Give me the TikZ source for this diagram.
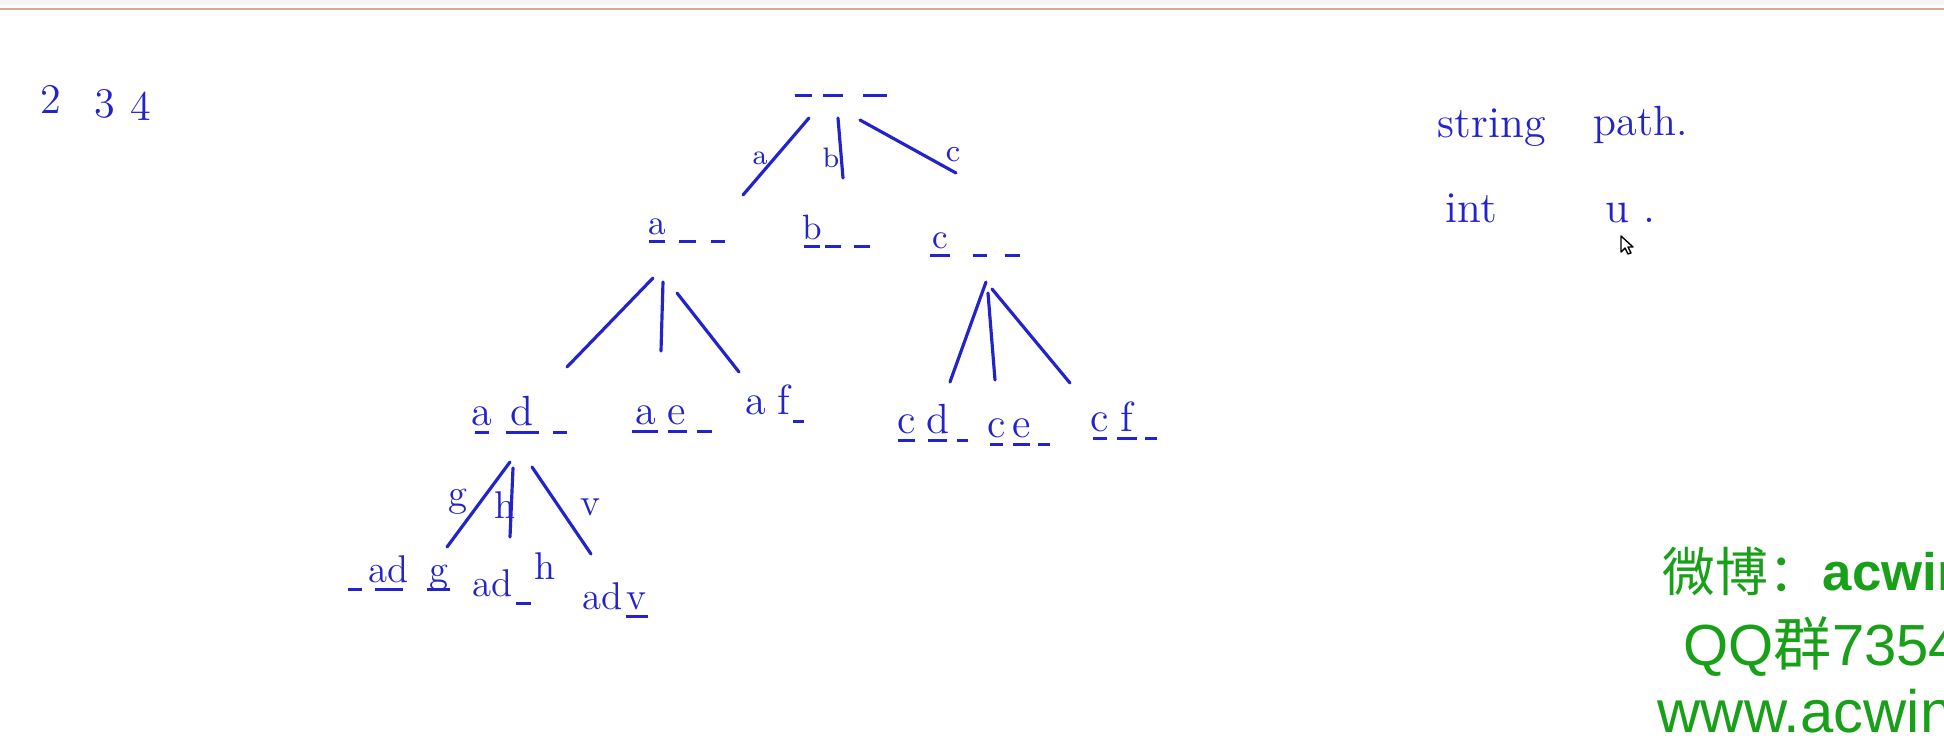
\documentclass[tikz,border=0pt]{standalone}
\usepackage{fontspec}
\newfontfamily\cjk{Noto Sans CJK SC}
\newfontfamily\arial{Liberation Sans}
\definecolor{pen}{RGB}{35, 35, 205}
\definecolor{mark}{RGB}{25, 160, 25}
\definecolor{bar}{RGB}{215, 170, 150}
% one blank of the word: a letter (or nothing) over a short stroke
\newcommand\slot[2][5pt]{\vtop{\hbox to #1{\hss\raisebox{0pt}[\height][0pt]{#2}\hss}\kern1.5pt\hrule height 0.9pt}}
\newcommand\pt[1]{\fontsize{#1}{#1}\selectfont}

\begin{document}
\begin{tikzpicture}[x=0.01cm, y=-0.01cm,
    hand/.style={text=pen, inner sep=0pt},
    word/.style={hand, anchor=south},
    stroke/.style={draw=pen, line width=0.9pt, line cap=round},
    wm/.style={text=mark, inner sep=0pt, anchor=base west}]
      \useasboundingbox (0,0) rectangle (1944,736);
      \clip (0,0) rectangle (1944,736);
      \fill[white] (0,0) rectangle (1944,736);
      \fill[gray!8] (0,0) rectangle (1944,5);
      \draw[color=bar, line width=0.6pt] (0,9)--(1944,9);

      % numbers in the corner
      \node[hand, anchor=base, font=\pt{12}] (n2) at (51,113) {2};
      \node[hand, anchor=base, font=\pt{12}] (n3) at (105,117) {3};
      \node[hand, anchor=base, font=\pt{12}] (n4) at (141,120) {4};

      % the tree of blanks
      \node[word] (root) at (841,98) {\slot[4.8pt]{}\hspace{3.1pt}\slot[5.7pt]{}\hspace{5.7pt}\slot[6.8pt]{}};
      \node[word, font=\pt{10}] (na) at (687,244) {\slot[4.6pt]{a}\hspace{4pt}\slot[4.6pt]{}\hspace{4.3pt}\slot[4pt]{}};
      \node[word, font=\pt{10}] (nb) at (837,249) {\slot[4.8pt]{b}\hspace{1.4pt}\slot[4.3pt]{}\hspace{3.7pt}\slot[4.8pt]{}};
      \node[word, font=\pt{10}] (nc) at (975,258) {\slot[5.7pt]{c}\hspace{6.5pt}\slot[4pt]{}\hspace{5.1pt}\slot[4.3pt]{}};

      \node[word, font=\pt{12}] (nad) at (521,435) {\slot[4pt]{a}\hspace{4.8pt}\slot[9.4pt]{d}\hspace{4pt}\slot[4pt]{}};
      \node[word, font=\pt{12}] (nae) at (672,434) {\slot[7.4pt]{a}\hspace{2.6pt}\slot[5.4pt]{e}\hspace{3.1pt}\slot[4pt]{}};
      \node[word, font=\pt{12}] (naf) at (775,424) {a\hspace{3pt}f\hspace{1pt}\slot[3.1pt]{}};
      \node[word, font=\pt{12}] (ncd) at (933,443) {\slot[4.8pt]{c}\hspace{3.7pt}\slot[5.4pt]{d}\hspace{2.8pt}\slot[3.1pt]{}};
      \node[word, font=\pt{12}] (nce) at (1020,447) {\slot[3.7pt]{c}\hspace{2.8pt}\slot[4.8pt]{e}\hspace{2.3pt}\slot[3.4pt]{}};
      \node[word, font=\pt{12}] (ncf) at (1125,441) {\slot[4pt]{c}\hspace{2.8pt}\slot[5.7pt]{f}\hspace{2.3pt}\slot[3.4pt]{}};

      \node[word, font=\pt{11}] (nadg) at (399,592) {\slot[4pt]{}\hspace{3.7pt}\slot[8pt]{ad}\hspace{7pt}\slot[6.5pt]{g}};
      \node[word, font=\pt{11}] (nadh) at (514,606) {ad\hspace{1pt}\slot[4.5pt]{}\hspace{1pt}\raisebox{5pt}{h}};
      \node[word, font=\pt{11}] (nadv) at (615,619) {ad\hspace{1pt}\slot[6.3pt]{v}};

      % branches
      \foreach \e/\xa/\ya/\xb/\yb in {ra/809/118/743/195, rb/838/118/843/178, rc/860/120/956/173,
          ad/653/278/567/367, ae/663/282/661/351, af/677/293/739/372,
          cd/986/282/950/382, ce/988/293/995/380, cf/992/289/1070/383,
          dg/510/462/447/547, dh/513/468/510/537, dv/532/467/591/554}{
        \coordinate (\e1) at (\xa,\ya);
        \coordinate (\e2) at (\xb,\yb);
        \draw[stroke] (\e1)--(\e2);
      }

      % branch letters
      \node[hand, font=\pt{8}] (la) at (760,158) {a};
      \node[hand, font=\pt{8}] (lb) at (831,158) {b};
      \node[hand, font=\pt{9}] (lc) at (953,155) {c};
      \node[hand, font=\pt{11}] (lg) at (458,502) {g};
      \node[hand, font=\pt{11}] (lh) at (505,505) {h};
      \node[hand, font=\pt{11}] (lv) at (590,507) {v};

      % notes on the right
      \node[hand, anchor=base west, font=\pt{12.5}] (str) at (1437,137) {string};
      \node[hand, anchor=base west, font=\pt{12}] (path) at (1593,135) {path.};
      \node[hand, anchor=base west, font=\pt{12.5}] (int) at (1445,222) {int};
      \node[hand, anchor=base west, font=\pt{12.5}] (u) at (1605,222) {u .};

      % mouse pointer
      \draw[black, fill=white, line width=0.4pt, line join=round]
        (1621,236)--(1621,252)--(1625,248)--(1628,254)--(1631,253)--(1628,247)--(1633,247)--cycle;

      % watermark
      \node[wm, font=\cjk\pt{15}] (wb) at (1662,591) {微博：};
      \node[wm, font=\arial\bfseries\pt{15}] (wbid) at (1822,590) {acwin};
      \node[wm, font=\arial\pt{16.5}] (qq) at (1683,665) {QQ{\cjk 群}7354};
      \node[wm, font=\arial\pt{17}] (www) at (1657,732) {www.acwin};
\end{tikzpicture}
\end{document}
